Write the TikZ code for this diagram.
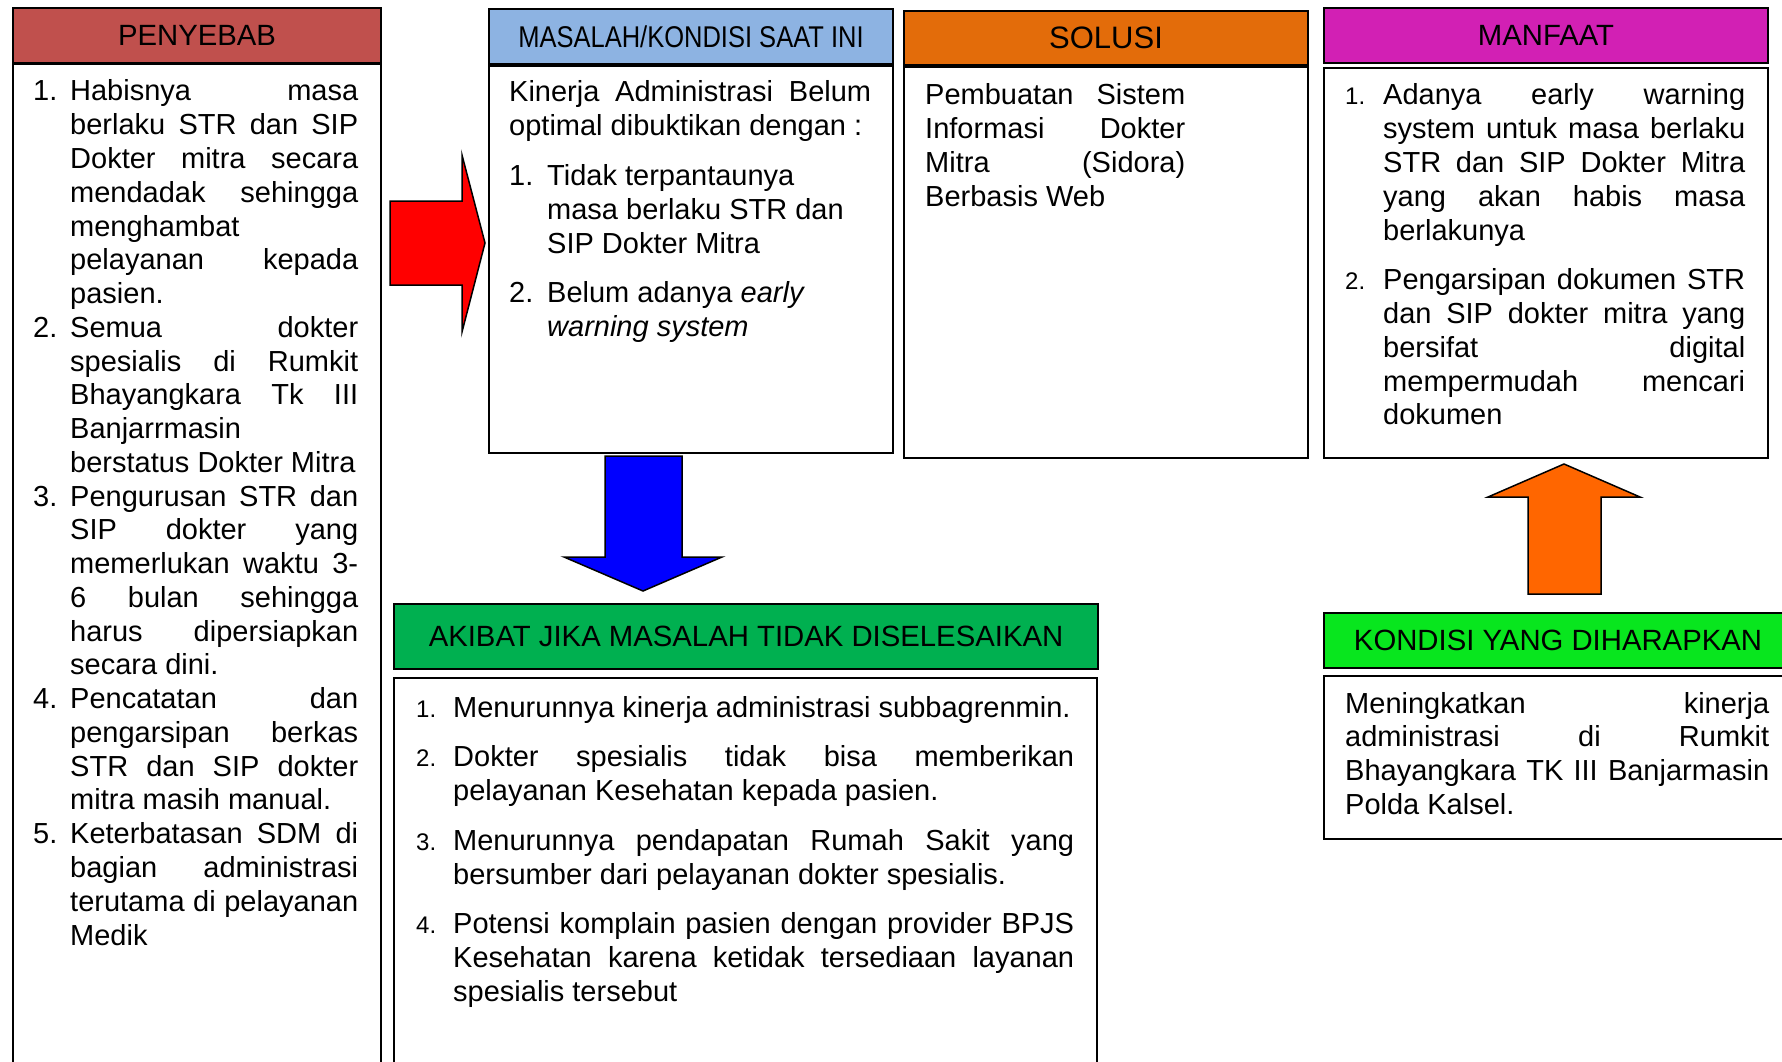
\documentclass[tikz,border=0pt]{standalone}
\usepackage{fontspec}
\setmainfont{Liberation Sans}
\newfontfamily\narrowfont[FakeStretch=0.85]{Liberation Sans}
\definecolor{penyRed}{RGB}{192,80,77}
\definecolor{masBlue}{RGB}{141,179,226}
\definecolor{solOrange}{RGB}{227,108,10}
\definecolor{manMagenta}{RGB}{210,32,180}
\definecolor{akiGreen}{RGB}{0,176,80}
\definecolor{konGreen}{RGB}{8,230,30}
\definecolor{arRed}{RGB}{255,0,0}
\definecolor{arBlue}{RGB}{0,0,255}
\definecolor{arOrange}{RGB}{255,102,0}
\tolerance=10000
\hbadness=10000
\hfuzz=20pt
\hyphenpenalty=10000
\exhyphenpenalty=10000
\newcommand\numitem[2]{\hangindent=#1\hangafter=1\makebox[#1][l]{#2}}
\newcommand\smallnum[1]{{\fontsize{24}{24}\selectfont #1}}
\begin{document}
\begin{tikzpicture}[x=1pt,y=-1pt,
  hdr/.style={draw, line width=2pt, anchor=north west, inner sep=0pt,
    font=\fontsize{29.3}{33}\selectfont},
  bodybox/.style={draw, line width=2pt, anchor=north west, inner sep=0pt},
  txt/.style={anchor=base west, inner sep=0pt, align=justify,
    font=\fontsize{29}{33.76}\selectfont},
  blockarrow/.style={draw=black, line width=1.5pt, line join=miter}
]
\clip (0,0) rectangle (1782,1062);
\useasboundingbox (0,0) rectangle (1782,1062);

% ---------- PENYEBAB ----------
\node[bodybox, minimum width=368pt, minimum height=1010pt] (penyB) at (12,63) {};
\node[hdr, fill=penyRed, minimum width=368pt, minimum height=55pt] (penyH) at (12,7) {PENYEBAB};
\node[txt, text width=325pt] (penyT) at (33,101) {%
\numitem{37pt}{1.}Habisnya masa\linebreak berlaku STR dan SIP\linebreak Dokter mitra secara\linebreak mendadak sehingga\linebreak menghambat\linebreak pelayanan kepada\linebreak pasien.\par
\numitem{37pt}{2.}Semua dokter\linebreak spesialis di Rumkit\linebreak Bhayangkara Tk III\linebreak Banjarrmasin\linebreak berstatus Dokter Mitra\par
\numitem{37pt}{3.}Pengurusan STR dan\linebreak SIP dokter yang\linebreak memerlukan waktu 3-\linebreak 6 bulan sehingga\linebreak harus dipersiapkan\linebreak secara dini.\par
\numitem{37pt}{4.}Pencatatan dan\linebreak pengarsipan berkas\linebreak STR dan SIP dokter\linebreak mitra masih manual.\par
\numitem{37pt}{5.}Keterbatasan SDM di\linebreak bagian administrasi\linebreak terutama di pelayanan\linebreak Medik\par};

% ---------- MASALAH ----------
\node[bodybox, minimum width=404pt, minimum height=387pt] (masB) at (488,65) {};
\node[hdr, fill=masBlue, minimum width=404pt, minimum height=55pt, font=\narrowfont\fontsize{30}{33}\selectfont] (masH) at (488,8) {MASALAH/KONDISI SAAT INI};
\node[txt, text width=362pt] (masT) at (509,102) {%
\setlength\parskip{16pt}Kinerja Administrasi Belum\linebreak optimal dibuktikan dengan :\par
\numitem{38pt}{1.}Tidak terpantaunya\newline masa berlaku STR dan\newline SIP Dokter Mitra\par
\numitem{38pt}{2.}Belum adanya \textit{early\newline warning system}\par};

% ---------- SOLUSI ----------
\node[bodybox, minimum width=404pt, minimum height=391pt] (solB) at (903,66) {};
\node[hdr, fill=solOrange, minimum width=404pt, minimum height=54pt, font=\fontsize{31}{33}\selectfont] (solH) at (903,10) {SOLUSI};
\node[txt, text width=260pt] (solT) at (925,105) {%
Pembuatan Sistem\linebreak Informasi Dokter\linebreak Mitra (Sidora)\linebreak Berbasis Web\par};

% ---------- MANFAAT ----------
\node[bodybox, minimum width=444pt, minimum height=390pt] (manB) at (1323,67) {};
\node[hdr, fill=manMagenta, minimum width=444pt, minimum height=55pt] (manH) at (1323,7) {MANFAAT};
\node[txt, text width=400pt] (manT) at (1345,105) {%
\setlength\parskip{16pt}\numitem{38pt}{\smallnum{1.}}Adanya early warning\linebreak system untuk masa berlaku\linebreak STR dan SIP Dokter Mitra\linebreak yang akan habis masa\linebreak berlakunya\par
\numitem{38pt}{\smallnum{2.}}Pengarsipan dokumen STR\linebreak dan SIP dokter mitra yang\linebreak bersifat digital\linebreak mempermudah mencari\linebreak dokumen\par};

% ---------- AKIBAT ----------
\node[bodybox, minimum width=703pt, minimum height=400pt] (akiB) at (393,677) {};
\node[hdr, fill=akiGreen, minimum width=704pt, minimum height=65pt] (akiH) at (393,603) {AKIBAT JIKA MASALAH TIDAK DISELESAIKAN};
\node[txt, text width=658pt] (akiT) at (416,717) {%
\setlength\parskip{16pt}\numitem{37pt}{\smallnum{1.}}Menurunnya kinerja administrasi subbagrenmin.\par
\numitem{37pt}{\smallnum{2.}}Dokter spesialis tidak bisa memberikan\linebreak pelayanan Kesehatan kepada pasien.\par
\numitem{37pt}{\smallnum{3.}}Menurunnya pendapatan Rumah Sakit yang\linebreak bersumber dari pelayanan dokter spesialis.\par
\numitem{37pt}{\smallnum{4.}}Potensi komplain pasien dengan provider BPJS\linebreak Kesehatan karena ketidak tersediaan layanan\linebreak spesialis tersebut\par};

% ---------- KONDISI ----------
\node[bodybox, minimum width=470pt, minimum height=163pt] (konB) at (1323,675) {};
\node[hdr, fill=konGreen, minimum width=468pt, minimum height=55pt] (konH) at (1323,612) {KONDISI YANG DIHARAPKAN};
\node[txt, text width=424pt] (konT) at (1345,713) {%
Meningkatkan kinerja\linebreak administrasi di Rumkit\linebreak Bhayangkara TK III Banjarmasin\linebreak Polda Kalsel.\par};

% ---------- block arrows ----------
\draw[blockarrow, fill=arRed] (390,201) -- (462,201) -- (462,155) -- (485,243) -- (462,332) -- (462,285) -- (390,285) -- cycle;
\draw[blockarrow, fill=arBlue] (605,456) -- (682,456) -- (682,557) -- (722,557) -- (643,591) -- (564,557) -- (605,557) -- cycle;
\draw[blockarrow, fill=arOrange] (1528,594) -- (1601,594) -- (1601,497) -- (1640,497) -- (1564,464) -- (1488,497) -- (1528,497) -- cycle;
\end{tikzpicture}
\end{document}
